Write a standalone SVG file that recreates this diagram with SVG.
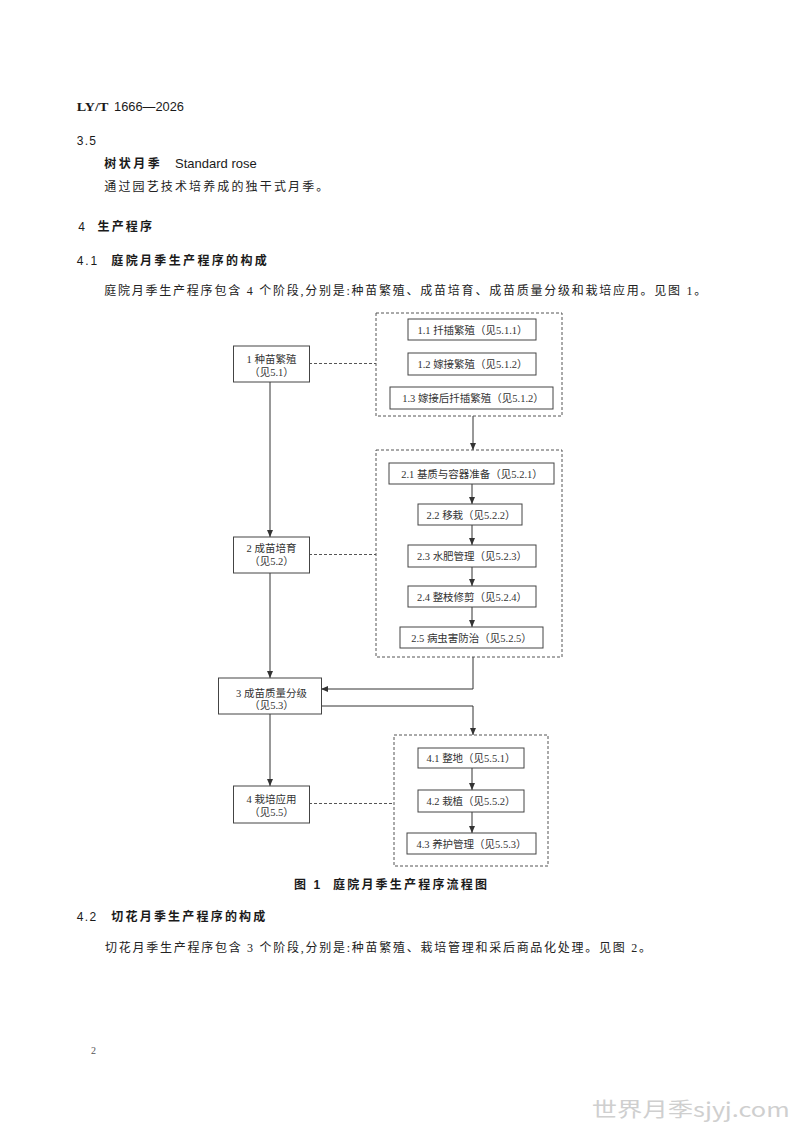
<svg xmlns="http://www.w3.org/2000/svg" width="800" height="1131" viewBox="0 0 800 1131">
  <style>
    .bg { fill: #ffffff; }
    .box { fill: #ffffff; stroke: #444444; stroke-width: 1; }
    .grp { fill: none; stroke: #555555; stroke-width: 1; stroke-dasharray: 3 2; }
    .bt { font-family: "Liberation Serif", "Noto Sans CJK SC", serif; font-size: 10.5px; fill: #333333; text-anchor: middle; }
    .body { font-family: "Liberation Serif", "Noto Sans CJK SC", serif; font-size: 12px; fill: #222222; }
    .head { font-family: "Liberation Sans", "Noto Sans CJK SC", sans-serif; font-size: 12px; font-weight: bold; fill: #1a1a1a; }
    .num { font-family: "Liberation Sans", "Noto Sans CJK SC", sans-serif; font-size: 12px; fill: #1a1a1a; }
    .line { fill: none; stroke: #333333; stroke-width: 1; }
    .dline { fill: none; stroke: #555555; stroke-width: 1; stroke-dasharray: 3 2; }
  </style>
  <defs>
    <marker id="arr" markerWidth="7" markerHeight="6" refX="7" refY="3" orient="auto" markerUnits="userSpaceOnUse">
      <path d="M0,0 L7,3 L0,6 z" fill="#333333"/>
    </marker>
  </defs>
  <rect class="bg" x="0" y="0" width="800" height="1131"/>

  <!-- page text -->
  <g id="header">
    <text x="76.7" y="110.5" font-family="Liberation Serif, serif" font-weight="bold" font-size="13" fill="#1a1a1a" textLength="31.6" lengthAdjust="spacingAndGlyphs">LY/T</text>
    <text x="114" y="110.5" class="num" font-size="12.5" textLength="70" lengthAdjust="spacingAndGlyphs">1666—2026</text>
  </g>
  <g id="sec35">
    <text x="76.7" y="145" class="num" textLength="19.3" lengthAdjust="spacing">3.5</text>
    <text x="104.3" y="167.9" class="head" textLength="55.5" lengthAdjust="spacing">树状月季</text>
    <text x="175" y="168" font-family="Liberation Sans, sans-serif" font-size="13" fill="#1a1a1a" textLength="81.7" lengthAdjust="spacingAndGlyphs">Standard rose</text>
    <text x="104.3" y="191.2" class="body" textLength="224" lengthAdjust="spacing">通过园艺技术培养成的独干式月季。</text>
  </g>
  <g id="sec4">
    <text x="78.3" y="231.3" class="num">4</text>
    <text x="97.5" y="231.3" class="head" textLength="54.5" lengthAdjust="spacing">生产程序</text>
  </g>
  <g id="sec41">
    <text x="76.7" y="265.3" class="num" textLength="20.6" lengthAdjust="spacing">4.1</text>
    <text x="111.3" y="265.3" class="head" textLength="155.5" lengthAdjust="spacing">庭院月季生产程序的构成</text>
    <text x="104.3" y="294.5" class="body" textLength="602" lengthAdjust="spacing">庭院月季生产程序包含 4 个阶段,分别是:种苗繁殖、成苗培育、成苗质量分级和栽培应用。见图 1。</text>
  </g>

  <!-- connectors -->
  <g id="connectors">
    <line class="line" x1="270" y1="382" x2="270" y2="537" marker-end="url(#arr)"/>
    <line class="line" x1="270" y1="573" x2="270" y2="678" marker-end="url(#arr)"/>
    <line class="line" x1="270" y1="714" x2="270" y2="786" marker-end="url(#arr)"/>
    <line class="dline" x1="309" y1="363.5" x2="376" y2="363.5"/>
    <line class="dline" x1="309" y1="554.5" x2="376" y2="554.5"/>
    <line class="dline" x1="309" y1="803.5" x2="394" y2="803.5"/>
    <line class="line" x1="473" y1="416" x2="473" y2="450" marker-end="url(#arr)"/>
    <line class="line" x1="472" y1="484" x2="472" y2="504" marker-end="url(#arr)"/>
    <line class="line" x1="472" y1="525" x2="472" y2="545" marker-end="url(#arr)"/>
    <line class="line" x1="472" y1="567" x2="472" y2="586" marker-end="url(#arr)"/>
    <line class="line" x1="472" y1="607" x2="472" y2="627" marker-end="url(#arr)"/>
    <polyline class="line" points="473,657 473,689 321,689" marker-end="url(#arr)"/>
    <polyline class="line" points="321,706 473,706 473,735" marker-end="url(#arr)"/>
    <line class="line" x1="472" y1="768" x2="472" y2="790" marker-end="url(#arr)"/>
    <line class="line" x1="472" y1="812" x2="472" y2="833" marker-end="url(#arr)"/>
  </g>

  <!-- stage nodes -->
  <g id="n1">
    <rect class="box" x="233.5" y="346" width="76" height="36"/>
    <text class="bt" x="271.5" y="363.3">1 种苗繁殖</text>
    <text class="bt" x="271.5" y="375.7">（见5.1）</text>
  </g>
  <g id="n2">
    <rect class="box" x="233.5" y="537" width="76" height="36"/>
    <text class="bt" x="271.5" y="552.3">2 成苗培育</text>
    <text class="bt" x="271.5" y="564.7">（见5.2）</text>
  </g>
  <g id="n3">
    <rect class="box" x="218.5" y="678" width="103" height="36"/>
    <text class="bt" x="271.5" y="696.7">3 成苗质量分级</text>
    <text class="bt" x="271.5" y="709">（见5.3）</text>
  </g>
  <g id="n4">
    <rect class="box" x="233.5" y="786" width="76" height="37"/>
    <text class="bt" x="271.5" y="803.3">4 栽培应用</text>
    <text class="bt" x="271.5" y="815.7">（见5.5）</text>
  </g>

  <!-- group 1 -->
  <g id="g1">
    <rect class="grp" x="376" y="313" width="186" height="103"/>
  </g>
  <g id="n11">
    <rect class="box" x="408" y="319" width="128" height="21"/>
    <text class="bt" x="472.5" y="333.7">1.1 扦插繁殖（见5.1.1）</text>
  </g>
  <g id="n12">
    <rect class="box" x="408" y="353" width="128" height="22"/>
    <text class="bt" x="472.5" y="368">1.2 嫁接繁殖（见5.1.2）</text>
  </g>
  <g id="n13">
    <rect class="box" x="390" y="387" width="163" height="22"/>
    <text class="bt" x="473" y="402">1.3 嫁接后扦插繁殖（见5.1.2）</text>
  </g>

  <!-- group 2 -->
  <g id="g2">
    <rect class="grp" x="376" y="450" width="186" height="207"/>
  </g>
  <g id="n21">
    <rect class="box" x="389" y="463" width="165" height="21"/>
    <text class="bt" x="472" y="477.5">2.1 基质与容器准备（见5.2.1）</text>
  </g>
  <g id="n22">
    <rect class="box" x="418" y="504" width="104" height="21"/>
    <text class="bt" x="471" y="518.7">2.2 移栽（见5.2.2）</text>
  </g>
  <g id="n23">
    <rect class="box" x="408" y="545" width="128" height="22"/>
    <text class="bt" x="472" y="560">2.3 水肥管理（见5.2.3）</text>
  </g>
  <g id="n24">
    <rect class="box" x="408" y="586" width="128" height="21"/>
    <text class="bt" x="472" y="600.5">2.4 整枝修剪（见5.2.4）</text>
  </g>
  <g id="n25">
    <rect class="box" x="400" y="627" width="143" height="21"/>
    <text class="bt" x="471.5" y="641.5">2.5 病虫害防治（见5.2.5）</text>
  </g>

  <!-- group 4 -->
  <g id="g4">
    <rect class="grp" x="394" y="735" width="154" height="131"/>
  </g>
  <g id="n41">
    <rect class="box" x="418" y="748" width="106" height="20"/>
    <text class="bt" x="471" y="762">4.1 整地（见5.5.1）</text>
  </g>
  <g id="n42">
    <rect class="box" x="418" y="790" width="106" height="22"/>
    <text class="bt" x="471" y="805">4.2 栽植（见5.5.2）</text>
  </g>
  <g id="n43">
    <rect class="box" x="407" y="833" width="129" height="21"/>
    <text class="bt" x="471.5" y="847.5">4.3 养护管理（见5.5.3）</text>
  </g>

  <g id="caption">
    <text x="294" y="888.8" class="head" font-size="12.5">图</text>
    <text x="313.5" y="888.8" class="head" font-size="12.5">1</text>
    <text x="333" y="888.8" class="head" font-size="12.5" textLength="154" lengthAdjust="spacing">庭院月季生产程序流程图</text>
  </g>

  <g id="sec42">
    <text x="76.7" y="921.3" class="num" textLength="19.5" lengthAdjust="spacing">4.2</text>
    <text x="111.3" y="921.3" class="head" textLength="154" lengthAdjust="spacing">切花月季生产程序的构成</text>
    <text x="105" y="951.8" class="body" textLength="546" lengthAdjust="spacing">切花月季生产程序包含 3 个阶段,分别是:种苗繁殖、栽培管理和采后商品化处理。见图 2。</text>
  </g>

  <g id="footer">
    <text x="91" y="1053.5" font-family="Liberation Serif, serif" font-size="10" fill="#555555">2</text>
    <text x="591.7" y="1117" font-family="Noto Sans CJK SC, Noto Sans, sans-serif" font-size="20" fill="#cfcfcf" textLength="198" lengthAdjust="spacingAndGlyphs">世界月季sjyj.com</text>
  </g>
</svg>
